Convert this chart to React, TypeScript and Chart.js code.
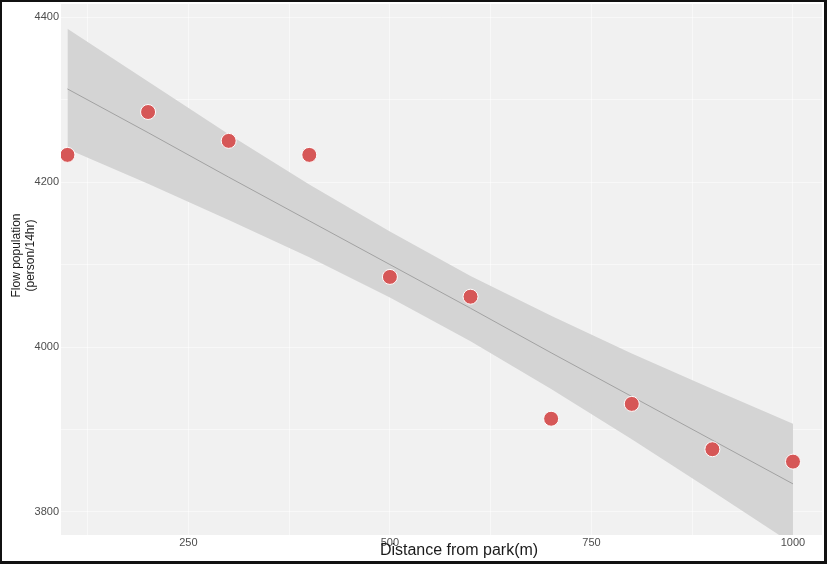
import React, { useEffect, useRef } from "react";
import { Chart, registerables } from "chart.js";

Chart.register(...registerables);

// Observed data
const distances = [100, 200, 300, 400, 500, 600, 700, 800, 900, 1000];
const flowPopulation = [4233, 4285, 4250, 4233, 4085, 4061, 3913, 3931, 3876, 3861];

// Fitted trend line and its confidence band
const fitLine = [4313, 4260, 4206, 4153, 4100, 4047, 3993, 3940, 3887, 3834];
const bandUpper = [4386, 4322, 4258, 4197, 4140, 4086, 4038, 3992, 3949, 3907];
const bandLower = [4240, 4198, 4154, 4109, 4060, 4007, 3949, 3888, 3825, 3761];

// Grid/tick positions
const xTicks = [125, 250, 375, 500, 625, 750, 875, 1000];
const xLabelStep = 250;
const yTicks = [3800, 3900, 4000, 4100, 4200, 4300, 4400];
const yLabelStep = 200;

const xTitle = "Distance from park(m)";
const yTitle = ["Flow population", "(person/14hr)"];

const FONT = "'Liberation Sans', Arial, sans-serif";

const toXY = (ys: number[]) => distances.map((x, i) => ({ x, y: ys[i] }));

const plotBg = {
  id: "plotBg",
  beforeDraw(chart: any) {
    const { ctx, chartArea } = chart;
    if (!chartArea) return;
    ctx.save();
    ctx.fillStyle = "#f1f1f1";
    ctx.fillRect(chartArea.left, chartArea.top, chartArea.right - chartArea.left, chartArea.bottom - chartArea.top);
    ctx.restore();
  },
};

const axisTitles = {
  id: "axisTitles",
  afterDraw(chart: any) {
    const { ctx, chartArea } = chart;
    ctx.save();
    ctx.fillStyle = "#1a1a1a";
    ctx.textAlign = "center";
    ctx.textBaseline = "middle";
    ctx.font = `16px ${FONT}`;
    ctx.fillText(xTitle, chartArea.left + 398, chartArea.bottom + 16);
    ctx.font = `12px ${FONT}`;
    ctx.translate(17, (chartArea.top + chartArea.bottom) / 2 - 14);
    ctx.rotate(-Math.PI / 2);
    yTitle.forEach((line, i) => ctx.fillText(line, 0, i * 14));
    ctx.restore();
  },
};

export default function App() {
  const ref = useRef<HTMLCanvasElement | null>(null);

  useEffect(() => {
    if (!ref.current) return;
    const chart = new Chart(ref.current, {
      type: "line",
      data: {
        datasets: [
          {
            label: "points",
            data: toXY(flowPopulation),
            showLine: false,
            pointRadius: 7.5,
            pointHoverRadius: 7.5,
            pointBackgroundColor: "#d65757",
            pointBorderColor: "#ffffff",
            pointBorderWidth: 1,
          },
          {
            label: "fit",
            data: toXY(fitLine),
            borderColor: "#a2a2a2",
            borderWidth: 1,
            pointRadius: 0,
            fill: false,
          },
          {
            label: "upper",
            data: toXY(bandUpper),
            borderWidth: 0,
            borderColor: "rgba(0,0,0,0)",
            backgroundColor: "#d4d4d4",
            pointRadius: 0,
            fill: "+1",
          },
          {
            label: "lower",
            data: toXY(bandLower),
            borderWidth: 0,
            borderColor: "rgba(0,0,0,0)",
            pointRadius: 0,
            fill: false,
          },
        ],
      },
      options: {
        animation: false,
        responsive: false,
        layout: { autoPadding: false, padding: { top: 4, right: 5, left: 0, bottom: 0 } },
        plugins: {
          legend: { display: false },
          tooltip: { enabled: false },
        },
        scales: {
          x: {
            type: "linear",
            min: 92,
            max: 1036,
            afterBuildTicks: (scale: any) => {
              scale.ticks = xTicks.map((v) => ({ value: v }));
            },
            afterFit: (scale: any) => {
              scale.height = 29;
              scale.paddingLeft = 0;
              scale.paddingRight = 0;
            },
            border: { display: false },
            grid: { color: "rgba(255,255,255,0.5)", lineWidth: 1, drawTicks: false },
            ticks: {
              padding: 1,
              maxRotation: 0,
              autoSkip: false,
              color: "#4d4d4d",
              font: { family: FONT, size: 11 },
              callback: (v: any) => (Number(v) % xLabelStep === 0 ? String(v) : ""),
            },
            title: { display: false },
          },
          y: {
            type: "linear",
            min: 3772,
            max: 4416,
            afterBuildTicks: (scale: any) => {
              scale.ticks = yTicks.map((v) => ({ value: v }));
            },
            afterFit: (scale: any) => {
              scale.width = 61;
              scale.paddingTop = 0;
              scale.paddingBottom = 0;
            },
            border: { display: false },
            grid: { color: "rgba(255,255,255,0.5)", lineWidth: 1, drawTicks: false },
            ticks: {
              padding: 2,
              autoSkip: false,
              color: "#4d4d4d",
              font: { family: FONT, size: 11 },
              callback: (v: any) => (Number(v) % yLabelStep === 0 ? String(v) : ""),
            },
            title: { display: false },
          },
        },
      },
      plugins: [plotBg, axisTitles],
    });
    return () => chart.destroy();
  }, []);

  return (
    <div style={{ position: "fixed", left: 0, top: 0, width: 827, height: 564, background: "#fff" }}>
      <canvas ref={ref} width={827} height={564} style={{ position: "absolute", left: 0, top: 0 }} />
      <div
        style={{
          position: "absolute",
          left: 0,
          top: 0,
          width: 827,
          height: 564,
          boxSizing: "border-box",
          borderTop: "2px solid #111",
          borderLeft: "2px solid #111",
          borderRight: "3px solid #111",
          borderBottom: "3px solid #111",
          pointerEvents: "none",
        }}
      />
    </div>
  );
}
